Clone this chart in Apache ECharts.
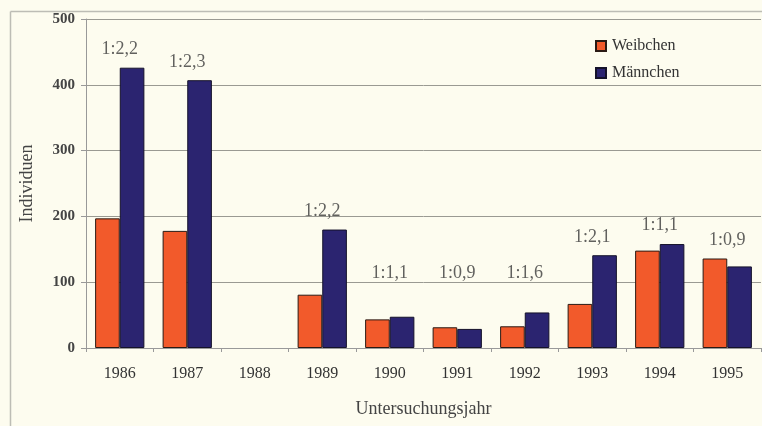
<!DOCTYPE html>
<html>
<head>
<meta charset="utf-8">
<script src="https://cdn.jsdelivr.net/npm/echarts@6/dist/echarts.min.js"></script>
<style>
  html, body { margin: 0; padding: 0; background: #fdfcef; }
  #chart { width: 762px; height: 426px; }
</style>
</head>
<body>
<div id="chart"></div>
<script>
// Untersuchungsjahre und Individuenzahlen je Geschlecht
const years = ['1986', '1987', '1988', '1989', '1990', '1991', '1992', '1993', '1994', '1995'];
const weibchen = [197, 178, null, 81, 43.5, 31.5, 33, 67, 148, 136];
const maennchen = [426, 407, null, 180, 47.5, 29, 54, 141, 158, 124];
// Geschlechterverhältnis Weibchen : Männchen
const ratios = ['1:2,2', '1:2,3', '', '1:2,2', '1:1,1', '1:0,9', '1:1,6', '1:2,1', '1:1,1', '1:0,9'];
const yTicks = [0, 100, 200, 300, 400, 500];

const serif = '"Liberation Serif", "DejaVu Serif", serif';

// Beschriftung über dem höheren Balken, mindestens knapp über der 100er-Linie
const ratioPoints = years.map((y, i) => {
  if (!ratios[i]) return null;
  const top = Math.max(weibchen[i] || 0, maennchen[i] || 0);
  return [y, Math.max(top + 28, 113), ratios[i]];
}).filter(Boolean);

const chart = echarts.init(document.getElementById('chart'), null, { renderer: 'canvas' });

chart.setOption({
  backgroundColor: '#fdfcef',
  animation: false,
  graphic: [
    { type: 'line', shape: { x1: 10.5, y1: 11.5, x2: 762, y2: 11.5 }, style: { stroke: '#bdbdb5', lineWidth: 1.5 } },
    { type: 'line', shape: { x1: 10.5, y1: 11.5, x2: 10.5, y2: 426 }, style: { stroke: '#bdbdb5', lineWidth: 1.5 } }
  ],
  grid: { left: 86, right: 1, top: 19, bottom: 78, containLabel: false },
  legend: {
    orient: 'vertical',
    left: 590,
    top: 33,
    itemWidth: 10,
    itemHeight: 10,
    itemGap: 11,
    icon: 'rect',
    textStyle: { fontFamily: serif, fontSize: 16, color: '#333', padding: [0, 0, 0, 1] },
    data: ['Weibchen', 'Männchen']
  },
  xAxis: {
    type: 'category',
    data: years,
    name: 'Untersuchungsjahr',
    nameLocation: 'middle',
    nameGap: 52,
    nameTextStyle: { fontFamily: serif, fontSize: 18, color: '#444' },
    axisLine: { lineStyle: { color: '#999', width: 1 } },
    axisTick: { show: true, length: 4, lineStyle: { color: '#999' } },
    axisLabel: { fontFamily: serif, fontSize: 16, color: '#333', margin: 18 },
    splitLine: { show: false }
  },
  yAxis: {
    type: 'value',
    min: yTicks[0],
    max: yTicks[yTicks.length - 1],
    interval: 100,
    name: 'Individuen',
    nameLocation: 'middle',
    nameGap: 50,
    nameTextStyle: { fontFamily: serif, fontSize: 18, color: '#444' },
    axisLine: { show: true, lineStyle: { color: '#999', width: 1 } },
    axisTick: { show: true, length: 5, lineStyle: { color: '#999' } },
    axisLabel: { fontFamily: serif, fontSize: 15, fontWeight: 'bold', color: '#444', margin: 11 },
    splitLine: { show: true, lineStyle: { color: '#9a9a92', width: 1 } }
  },
  series: [
    {
      name: 'Weibchen',
      type: 'bar',
      data: weibchen,
      barGap: '0%',
      barCategoryGap: '27%',
      itemStyle: { color: '#f25a2b', borderColor: '#2a1a14', borderWidth: 1 }
    },
    {
      name: 'Männchen',
      type: 'bar',
      data: maennchen,
      itemStyle: { color: '#2b2470', borderColor: '#15122a', borderWidth: 1 }
    },
    {
      name: 'Verhältnis',
      type: 'scatter',
      data: ratioPoints,
      symbolSize: 0,
      silent: true,
      label: {
        show: true,
        position: 'inside',
        formatter: p => p.data[2],
        fontFamily: serif,
        fontSize: 18,
        color: '#3a3a3a'
      }
    }
  ]
});
</script>
</body>
</html>
